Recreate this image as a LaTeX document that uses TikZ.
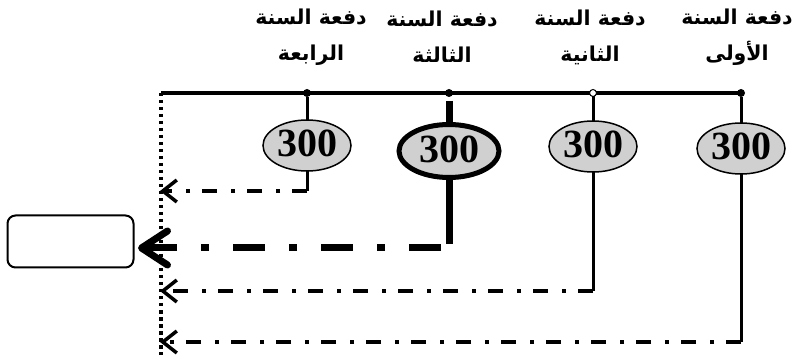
\documentclass[tikz,border=0pt]{standalone}
\usepackage{fontspec}
\setmainfont{Liberation Serif}
\newfontfamily\arabicfont[Script=Arabic,BoldFont={DejaVu Sans Bold}]{DejaVu Sans}
\TeXXeTstate=1
\usetikzlibrary{shapes.geometric,arrows.meta}
\definecolor{amountgray}{RGB}{208,208,208}

\begin{document}
\begin{tikzpicture}[x=1pt,y=-1pt,
  every node/.style={inner sep=0pt,outer sep=0pt},
  year/.style={font=\arabicfont\bfseries\fontsize{20.5}{36}\selectfont,align=center},
  amount/.style={ellipse,draw,line width=1.5pt,fill=amountgray,
    minimum width=88pt,minimum height=51pt,text height=27pt,text depth=4pt,
    font=\bfseries\fontsize{40}{40}\selectfont},
  mainamount/.style={amount,line width=5pt,minimum width=100pt,minimum height=53pt},
  joint/.style={circle,fill=black,minimum size=8pt},
  openjoint/.style={circle,draw=black,fill=white,line width=1pt,minimum size=7pt},
  rail/.style={line width=4pt},
  stem/.style={line width=3pt},
  boldstem/.style={line width=7pt},
  flow/.style={line width=3.5pt,dash pattern=on 15pt off 12pt on 4pt off 14pt,
    -{Straight Barb[length=14pt,width=22pt]}},
  mainflow/.style={line width=7pt,dash pattern=on 32pt off 24pt on 8pt off 24pt,
    -{Straight Barb[length=26pt,width=34pt,round]}},
  guide/.style={line width=3.5pt,dash pattern=on 3.5pt off 3.5pt},
  target/.style={draw,rounded corners=8pt,line width=2pt,minimum width=126pt,minimum height=52pt}
]
\useasboundingbox (0,0) rectangle (795,355);

% year labels
\node[year] (y1) at (737,37) {\beginR دفعة السنة\endR\\\beginR الأولى\endR};
\node[year] (y2) at (590,37) {\beginR دفعة السنة\endR\\\beginR الثانية\endR};
\node[year] (y3) at (442,37) {\beginR دفعة السنة\endR\\\beginR الثالثة\endR};
\node[year] (y4) at (311,37) {\beginR دفعة السنة\endR\\\beginR الرابعة\endR};

% time rail and the dotted guide down the left
\coordinate (railL) at (161,93);
\coordinate (guideB) at (161,355);
\coordinate (railR) at (741,93);
\draw[guide] (railL) -- (guideB);
\draw[rail] (railL) -- (railR);

% payments
\node[amount] (e1) at (741,148.5) {300};
\node[amount] (e2) at (593,146.5) {300};
\node[mainamount] (e3) at (449,151) {300};
\node[amount] (e4) at (307,145.5) {300};

% joints on the rail
\node[joint] (d1) at (741,93) {};
\node[openjoint] (d2) at (593,93) {};
\node[joint] (d3) at (449,93) {};
\node[joint] (d4) at (307,93) {};
\coordinate (d3s) at (449,101);

% stems from the rail
\draw[stem] (d1) -- (e1);
\draw[stem] (d2) -- (e2);
\draw[boldstem] (d3s) -- (e3);
\draw[stem] (d4) -- (e4);

% target box
\node[target] (box) at (70.5,241.5) {};

% flows to the left
\coordinate (c1) at (741,342);
\coordinate (c2) at (593,291);
\coordinate (c3) at (449,244);
\coordinate (c3h) at (441,248);
\coordinate (c4) at (307,191);
\coordinate (t1) at (160,342);
\coordinate (t2) at (160,291);
\coordinate (t3) at (138,248);
\coordinate (t4) at (160,191);

\draw[stem] (e1) -- (c1);
\draw[stem] (e2) -- (c2);
\draw[boldstem] (e3) -- (c3);
\draw[stem] (e4) -- (c4);

\draw[flow] (c1) -- (t1);
\draw[flow] (c2) -- (t2);
\draw[mainflow] (c3h) -- (t3);
\draw[flow] (c4) -- (t4);
\end{tikzpicture}
\end{document}
